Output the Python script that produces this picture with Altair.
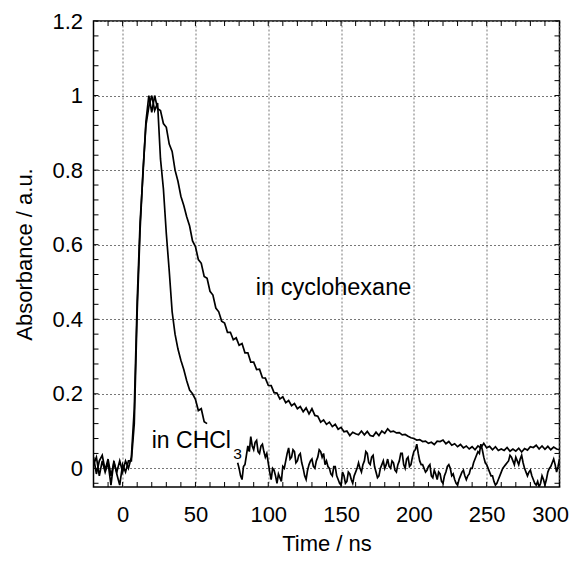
import altair as alt
import pandas as pd

# ---------------- data ----------------
# cyclohexane trace, sampled every 2 ns from -20 to 300 ns
cyc_time = list(range(-20, 301, 2))
cyclohexane = [
    0.03, -0.015, 0.02, 0.035, -0.005, 0.025, -0.02, 0.015, -0.01, 0.02,      # -20..-2
    -0.01, 0.02, 0.0, 0.03, 0.16, 0.45, 0.66, 0.79, 0.93, 1.0,                # 0..18
    0.955, 1.0, 0.965, 0.96, 0.925, 0.915, 0.87, 0.85, 0.80, 0.77,            # 20..38
    0.73, 0.705, 0.675, 0.65, 0.61, 0.595, 0.56, 0.55, 0.515, 0.51,           # 40..58
    0.475, 0.465, 0.43, 0.42, 0.395, 0.39, 0.365, 0.365, 0.345, 0.35,         # 60..78
    0.33, 0.335, 0.31, 0.31, 0.285, 0.285, 0.265, 0.266, 0.243, 0.242,        # 80..98
    0.223, 0.222, 0.203, 0.202, 0.186, 0.192, 0.176, 0.182, 0.168, 0.174,     # 100..118
    0.16, 0.166, 0.152, 0.162, 0.146, 0.16, 0.142, 0.14, 0.124, 0.13,         # 120..138
    0.118, 0.124, 0.112, 0.118, 0.105, 0.11, 0.098, 0.10, 0.088, 0.097,       # 140..158
    0.093, 0.09, 0.10, 0.09, 0.099, 0.088, 0.086, 0.097, 0.088, 0.10,         # 160..178
    0.094, 0.106, 0.098, 0.10, 0.095, 0.096, 0.09, 0.091, 0.086, 0.082,       # 180..198
    0.08, 0.076, 0.077, 0.072, 0.073, 0.067, 0.07, 0.064, 0.073, 0.072,       # 200..218
    0.076, 0.066, 0.072, 0.062, 0.066, 0.058, 0.064, 0.055, 0.06, 0.052,      # 220..238
    0.058, 0.05, 0.06, 0.055, 0.067, 0.055, 0.059, 0.05, 0.058, 0.048,        # 240..258
    0.052, 0.048, 0.056, 0.046, 0.052, 0.046, 0.054, 0.044, 0.053, 0.049,     # 260..278
    0.058, 0.056, 0.062, 0.052, 0.06, 0.051, 0.059, 0.05, 0.057, 0.052,       # 280..298
    0.05,                                                                     # 300
]

# CHCl3 trace, first visible part: every 2 ns from -20 to 58 ns
chcl3_early_time = list(range(-20, 59, 2))
chcl3_early = [
    0.01, 0.03, -0.02, 0.02, -0.01, 0.015, -0.045, 0.02, -0.015, -0.045,      # -20..-2
    0.01, -0.01, 0.02, 0.02, 0.12, 0.42, 0.64, 0.80, 0.92, 0.97,              # 0..18
    1.0, 0.96, 0.98, 0.83, 0.75, 0.63, 0.53, 0.42, 0.36, 0.32,                # 20..38
    0.29, 0.265, 0.235, 0.21, 0.20, 0.185, 0.155, 0.16, 0.125, 0.12,          # 40..58
]

# CHCl3 trace, part after its label: every 1 ns from 79 to 300 ns
chcl3_late_time = list(range(79, 301))
chcl3_late = [
    0.015, 0.0, -0.02, -0.03, 0.005, 0.01, 0.035,                             # 79..85
    0.06, 0.045, 0.085, 0.06, 0.05, 0.07, 0.075, 0.045, 0.04, 0.06,           # 86..95
    0.065, 0.045, 0.03, 0.04, 0.015, -0.01, -0.03, 0.0, -0.005, -0.02,        # 96..105
    -0.04, -0.015, -0.025, -0.035, 0.005, 0.0, 0.02, 0.04, 0.055, 0.025,      # 106..115
    0.03, 0.05, 0.045, 0.015, 0.02, 0.035, 0.04, 0.015, 0.0, -0.02,           # 116..125
    -0.03, -0.005, 0.01, 0.02, 0.025, 0.005, 0.0, 0.02, 0.03, 0.05,           # 126..135
    0.045, 0.03, 0.04, 0.01, 0.02, 0.005, 0.0, -0.015, -0.02, 0.005,          # 136..145
    0.005, -0.02, -0.03, -0.04, -0.045, -0.01, -0.02, -0.04, -0.035, -0.01,   # 146..155
    -0.015, -0.03, -0.04, -0.02, -0.01, 0.0, 0.015, 0.0, -0.01, 0.01,         # 156..165
    0.02, 0.045, 0.04, 0.015, 0.01, 0.03, 0.035, 0.005, -0.01, -0.025,        # 166..175
    -0.02, 0.0, 0.01, 0.02, 0.0, 0.01, 0.025, 0.005, 0.0, 0.02,               # 176..185
    0.015, -0.005, -0.01, 0.01, 0.02, 0.04, 0.04, 0.01, 0.0, 0.025,           # 186..195
    0.03, 0.005, 0.01, 0.03, 0.045, 0.05, 0.065, 0.04, 0.02, 0.01,            # 196..205
    0.01, 0.0, -0.01, -0.005, 0.005, 0.01, -0.02, -0.025, -0.005, -0.015,     # 206..215
    -0.03, -0.01, -0.015, -0.035, -0.04, -0.02, -0.01, 0.005, 0.01, 0.0,      # 216..225
    -0.02, -0.015, -0.03, -0.04, -0.045, -0.03, -0.02, -0.01, -0.005, -0.02,  # 226..235
    -0.03, -0.02, -0.015, 0.0, 0.0, 0.015, 0.025, 0.035, 0.045, 0.04,         # 236..245
    0.065, 0.05, 0.03, 0.015, 0.01, 0.0, -0.01, -0.02, -0.02, -0.035,         # 246..255
    -0.045, -0.04, -0.03, -0.02, -0.01, 0.0, 0.005, 0.01, 0.015, 0.02,        # 256..265
    0.035, 0.03, 0.02, 0.01, 0.03, 0.02, 0.01, 0.025, 0.035, 0.015,           # 266..275
    0.0, -0.01, -0.02, -0.01, -0.005, -0.02, -0.03, -0.04, -0.045, -0.035,    # 276..285
    -0.05, -0.04, -0.02, -0.03, -0.045, -0.03, -0.01, 0.0, 0.005, 0.015,      # 286..295
    0.025, 0.01, -0.01, 0.005, 0.025,                                         # 296..300
]

major_x = [0, 50, 100, 150, 200, 250, 300]
major_y = [0, 0.2, 0.4, 0.6, 0.8, 1.0, 1.2]
minor_x = [-20, -10, 0, 10, 20, 30, 40, 50, 60, 70, 80, 90, 100, 110, 120, 130,
           140, 150, 160, 170, 180, 190, 200, 210, 220, 230, 240, 250, 260, 270,
           280, 290, 300]
minor_y = [-0.04, 0.0, 0.04, 0.08, 0.12, 0.16, 0.2, 0.24, 0.28, 0.32, 0.36, 0.4,
           0.44, 0.48, 0.52, 0.56, 0.6, 0.64, 0.68, 0.72, 0.76, 0.8, 0.84, 0.88,
           0.92, 0.96, 1.0, 1.04, 1.08, 1.12, 1.16, 1.2]

cyc_label_t = [91.5]
cyc_label_a = [0.464]
cyc_label_text = ["in cyclohexane"]
chcl3_label_t = [20.0]
chcl3_label_a = [0.054]
chcl3_label_text = ["in CHCl"]
sub_t = [76.0]
sub_a = [0.024]
sub_text = ["3"]

# ---------------- tables ----------------
rows = []
for t, v in zip(cyc_time, cyclohexane):
    rows.append({"t": t, "A": v, "series": "cyclohexane"})
for t, v in zip(chcl3_early_time, chcl3_early):
    rows.append({"t": t, "A": v, "series": "chcl3_a"})
for t, v in zip(chcl3_late_time, chcl3_late):
    rows.append({"t": t, "A": v, "series": "chcl3_b"})
df = pd.DataFrame(rows)
cyc_lab_df = pd.DataFrame({"t": cyc_label_t, "A": cyc_label_a, "text": cyc_label_text})
chcl3_lab_df = pd.DataFrame({"t": chcl3_label_t, "A": chcl3_label_a, "text": chcl3_label_text})
sub_df = pd.DataFrame({"t": sub_t, "A": sub_a, "text": sub_text})
xt_df = pd.DataFrame({"t": minor_x})
yt_df = pd.DataFrame({"A": minor_y})

W = 466
H = 466
TICK = 5
FONT = "Liberation Sans"

x_scale = alt.Scale(domain=[-20, 300], nice=False, zero=False)
y_scale = alt.Scale(domain=[-0.05, 1.2], nice=False, zero=False)

common_lab = dict(labelFont=FONT, labelFontSize=22, labelColor="black",
                  titleFont=FONT, titleFontSize=22, titleColor="black",
                  titleFontWeight="normal")

lines = alt.Chart(df).mark_line(color="black", strokeWidth=1.7, clip=True).encode(
    x=alt.X("t:Q", scale=x_scale,
            axis=alt.Axis(orient="bottom", values=major_x, title="Time / ns",
                          grid=True, gridDash=[2, 2], gridColor="#777777", gridWidth=1,
                          ticks=False, tickSize=0, domain=False,
                          labelFlush=True, labelFlushOffset=9,
                          labelPadding=17, titlePadding=8, **common_lab)),
    y=alt.Y("A:Q", scale=y_scale,
            axis=alt.Axis(orient="left", values=major_y, format=".1~f",
                          title="Absorbance / a.u.",
                          grid=True, gridDash=[2, 2], gridColor="#777777", gridWidth=1,
                          ticks=False, tickSize=0, domain=False, labelFlush=False,
                          labelPadding=11, titlePadding=15, **common_lab)),
    detail="series:N",
)

xs = alt.X("t:Q", scale=x_scale, axis=None)
ys = alt.Y("A:Q", scale=y_scale, axis=None)

ticks_bottom = alt.Chart(xt_df).mark_rule(color="black", strokeWidth=1).encode(
    x=xs, y=alt.value(H), y2=alt.value(H - TICK))
ticks_top = alt.Chart(xt_df).mark_rule(color="black", strokeWidth=1).encode(
    x=xs, y=alt.value(0), y2=alt.value(TICK))
ticks_left = alt.Chart(yt_df).mark_rule(color="black", strokeWidth=1).encode(
    y=ys, x=alt.value(0), x2=alt.value(TICK))
ticks_right = alt.Chart(yt_df).mark_rule(color="black", strokeWidth=1).encode(
    y=ys, x=alt.value(W), x2=alt.value(W - TICK))

cyc_text = alt.Chart(cyc_lab_df).mark_text(align="left", baseline="alphabetic",
                                           font=FONT, fontSize=23.5, color="black").encode(
    x=xs, y=ys, text="text:N")
chcl3_text = alt.Chart(chcl3_lab_df).mark_text(align="left", baseline="alphabetic",
                                               font=FONT, fontSize=23, color="black").encode(
    x=xs, y=ys, text="text:N")
subs = alt.Chart(sub_df).mark_text(align="left", baseline="alphabetic",
                                   font=FONT, fontSize=15.5, color="black").encode(
    x=xs, y=ys, text="text:N")

chart = alt.layer(
    lines, ticks_bottom, ticks_top, ticks_left, ticks_right, cyc_text, chcl3_text, subs
).resolve_axis(
    x="independent", y="independent"
).properties(
    width=W, height=H,
    autosize=alt.AutoSizeParams(type="none"),
    padding={"left": 85.5, "top": 13, "right": 9.5, "bottom": 70},
).configure_view(stroke="black", strokeWidth=1.5)

chart.save("out.html", embed_options={"renderer": "svg", "actions": False})
